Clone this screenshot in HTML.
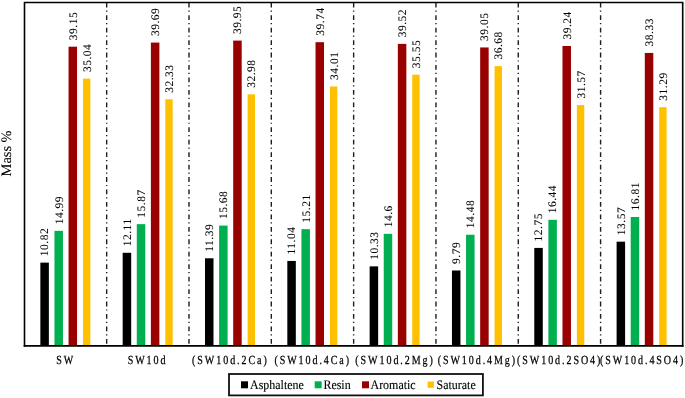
<!DOCTYPE html>
<html><head><meta charset="utf-8"><style>
html,body{margin:0;padding:0;background:#fff;}
body{width:685px;height:398px;overflow:hidden;position:relative;}
svg{position:absolute;left:0;top:0;will-change:transform;}
text{font-family:"Liberation Serif",serif;fill:#000;text-rendering:geometricPrecision;stroke-linejoin:round;}
.dl{font-size:11.5px;stroke:#000;stroke-width:0.08px;letter-spacing:0.5px;}
.xl{font-size:12.4px;stroke:#000;stroke-width:0.25px;letter-spacing:2.37px;}
.lg{font-size:13px;stroke:#000;stroke-width:0.12px;}
</style></head><body>
<svg width="685" height="398" viewBox="0 0 685 398">
<rect x="0" y="0" width="685" height="398" fill="#fff"/>
<line x1="106.67" y1="2.5" x2="106.67" y2="345.5" stroke="#1e1e1e" stroke-width="1.4" stroke-dasharray="4.8 3.0 1.2 3.45" stroke-dashoffset="-0.3"/>
<line x1="188.99" y1="2.5" x2="188.99" y2="345.5" stroke="#1e1e1e" stroke-width="1.4" stroke-dasharray="4.8 3.0 1.2 3.45" stroke-dashoffset="-0.3"/>
<line x1="271.31" y1="2.5" x2="271.31" y2="345.5" stroke="#1e1e1e" stroke-width="1.4" stroke-dasharray="4.8 3.0 1.2 3.45" stroke-dashoffset="-0.3"/>
<line x1="353.63" y1="2.5" x2="353.63" y2="345.5" stroke="#1e1e1e" stroke-width="1.4" stroke-dasharray="4.8 3.0 1.2 3.45" stroke-dashoffset="-0.3"/>
<line x1="435.95" y1="2.5" x2="435.95" y2="345.5" stroke="#1e1e1e" stroke-width="1.4" stroke-dasharray="4.8 3.0 1.2 3.45" stroke-dashoffset="-0.3"/>
<line x1="518.27" y1="2.5" x2="518.27" y2="345.5" stroke="#1e1e1e" stroke-width="1.4" stroke-dasharray="4.8 3.0 1.2 3.45" stroke-dashoffset="-0.3"/>
<line x1="600.59" y1="2.5" x2="600.59" y2="345.5" stroke="#1e1e1e" stroke-width="1.4" stroke-dasharray="4.8 3.0 1.2 3.45" stroke-dashoffset="-0.3"/>
<rect x="40.36" y="262.63" width="8.5" height="82.87" fill="#000000"/>
<text class="dl" transform="translate(48.46,256.13) rotate(-90)">10.82</text>
<rect x="54.46" y="230.84" width="8.5" height="114.66" fill="#00B050"/>
<text class="dl" transform="translate(62.56,224.34) rotate(-90)">14.99</text>
<rect x="68.56" y="46.69" width="8.5" height="298.81" fill="#990000"/>
<text class="dl" transform="translate(76.66,40.19) rotate(-90)">39.15</text>
<rect x="82.96" y="78.62" width="7.4" height="266.88" fill="#FFC000"/>
<text class="dl" transform="translate(90.76,72.12) rotate(-90)">35.04</text>
<text class="xl" text-anchor="middle" transform="translate(65.76,363.7) scale(0.81,1)">SW</text>
<rect x="122.68" y="252.79" width="8.5" height="92.71" fill="#000000"/>
<text class="dl" transform="translate(130.78,246.29) rotate(-90)">12.11</text>
<rect x="136.78" y="224.14" width="8.5" height="121.36" fill="#00B050"/>
<text class="dl" transform="translate(144.88,217.64) rotate(-90)">15.87</text>
<rect x="150.88" y="42.57" width="8.5" height="302.93" fill="#990000"/>
<text class="dl" transform="translate(158.98,36.07) rotate(-90)">39.69</text>
<rect x="165.28" y="99.27" width="7.4" height="246.23" fill="#FFC000"/>
<text class="dl" transform="translate(173.08,92.77) rotate(-90)">32.33</text>
<text class="xl" text-anchor="middle" transform="translate(147.58,363.7) scale(0.81,1)">SW10d</text>
<rect x="205.00" y="258.28" width="8.5" height="87.22" fill="#000000"/>
<text class="dl" transform="translate(213.10,251.78) rotate(-90)">11.39</text>
<rect x="219.10" y="225.58" width="8.5" height="119.92" fill="#00B050"/>
<text class="dl" transform="translate(227.20,219.08) rotate(-90)">15.68</text>
<rect x="233.20" y="40.59" width="8.5" height="304.91" fill="#990000"/>
<text class="dl" transform="translate(241.30,34.09) rotate(-90)">39.95</text>
<rect x="247.60" y="94.32" width="7.4" height="251.18" fill="#FFC000"/>
<text class="dl" transform="translate(255.40,87.82) rotate(-90)">32.98</text>
<text class="xl" text-anchor="middle" transform="translate(230.40,363.7) scale(0.81,1)">(SW10d.2Ca)</text>
<rect x="287.32" y="260.95" width="8.5" height="84.55" fill="#000000"/>
<text class="dl" transform="translate(295.42,254.45) rotate(-90)">11.04</text>
<rect x="301.42" y="229.17" width="8.5" height="116.33" fill="#00B050"/>
<text class="dl" transform="translate(309.52,222.67) rotate(-90)">15.21</text>
<rect x="315.52" y="42.19" width="8.5" height="303.31" fill="#990000"/>
<text class="dl" transform="translate(323.62,35.69) rotate(-90)">39.74</text>
<rect x="329.92" y="86.47" width="7.4" height="259.03" fill="#FFC000"/>
<text class="dl" transform="translate(337.72,79.97) rotate(-90)">34.01</text>
<text class="xl" text-anchor="middle" transform="translate(312.72,363.7) scale(0.81,1)">(SW10d.4Ca)</text>
<rect x="369.64" y="266.36" width="8.5" height="79.14" fill="#000000"/>
<text class="dl" transform="translate(377.74,259.86) rotate(-90)">10.33</text>
<rect x="383.74" y="233.82" width="8.5" height="111.68" fill="#00B050"/>
<text class="dl" transform="translate(391.84,227.32) rotate(-90)">14.6</text>
<rect x="397.84" y="43.87" width="8.5" height="301.63" fill="#990000"/>
<text class="dl" transform="translate(405.94,37.37) rotate(-90)">39.52</text>
<rect x="412.24" y="74.73" width="7.4" height="270.77" fill="#FFC000"/>
<text class="dl" transform="translate(420.04,68.23) rotate(-90)">35.55</text>
<text class="xl" text-anchor="middle" transform="translate(395.04,363.7) scale(0.81,1)">(SW10d.2Mg)</text>
<rect x="451.96" y="270.48" width="8.5" height="75.02" fill="#000000"/>
<text class="dl" transform="translate(460.06,263.98) rotate(-90)">9.79</text>
<rect x="466.06" y="234.73" width="8.5" height="110.77" fill="#00B050"/>
<text class="dl" transform="translate(474.16,228.23) rotate(-90)">14.48</text>
<rect x="480.16" y="47.45" width="8.5" height="298.05" fill="#990000"/>
<text class="dl" transform="translate(488.26,40.95) rotate(-90)">39.05</text>
<rect x="494.56" y="66.12" width="7.4" height="279.38" fill="#FFC000"/>
<text class="dl" transform="translate(502.36,59.62) rotate(-90)">36.68</text>
<text class="xl" text-anchor="middle" transform="translate(477.36,363.7) scale(0.81,1)">(SW10d.4Mg)</text>
<rect x="534.28" y="247.92" width="8.5" height="97.58" fill="#000000"/>
<text class="dl" transform="translate(542.38,241.42) rotate(-90)">12.75</text>
<rect x="548.38" y="219.79" width="8.5" height="125.71" fill="#00B050"/>
<text class="dl" transform="translate(556.48,213.29) rotate(-90)">16.44</text>
<rect x="562.48" y="46.00" width="8.5" height="299.50" fill="#990000"/>
<text class="dl" transform="translate(570.58,39.50) rotate(-90)">39.24</text>
<rect x="576.88" y="105.07" width="7.4" height="240.43" fill="#FFC000"/>
<text class="dl" transform="translate(584.68,98.57) rotate(-90)">31.57</text>
<text class="xl" text-anchor="middle" transform="translate(559.68,363.7) scale(0.81,1)">(SW10d.2SO4)</text>
<rect x="616.60" y="241.67" width="8.5" height="103.83" fill="#000000"/>
<text class="dl" transform="translate(624.70,235.17) rotate(-90)">13.57</text>
<rect x="630.70" y="216.97" width="8.5" height="128.53" fill="#00B050"/>
<text class="dl" transform="translate(638.80,210.47) rotate(-90)">16.81</text>
<rect x="644.80" y="52.94" width="8.5" height="292.56" fill="#990000"/>
<text class="dl" transform="translate(652.90,46.44) rotate(-90)">38.33</text>
<rect x="659.20" y="107.20" width="7.4" height="238.30" fill="#FFC000"/>
<text class="dl" transform="translate(667.00,100.70) rotate(-90)">31.29</text>
<text class="xl" text-anchor="middle" transform="translate(642.60,363.7) scale(0.81,1)">(SW10d.4SO4)</text>
<path d="M24.5,2.5H682.7M24.5,1.7V346.7M682.7,1.7V346.7" fill="none" stroke="#000" stroke-width="1.6"/>
<path d="M23.7,345.8H683.5" fill="none" stroke="#000" stroke-width="1.8"/>
<text font-size="14.4" stroke="#000" stroke-width="0.1" transform="translate(10.6,176.4) rotate(-90)">Mass %</text>
<rect x="229.0" y="374" width="253.9" height="21.4" fill="#fff" stroke="#111" stroke-width="1.8"/>
<rect x="241" y="381.3" width="7" height="7" fill="#000"/>
<text class="lg" transform="translate(250,388.6) scale(0.92,1)">Asphaltene</text>
<rect x="314.7" y="381.3" width="7" height="7" fill="#00B050"/>
<text class="lg" transform="translate(323.4,388.6) scale(0.92,1)">Resin</text>
<rect x="362" y="381.3" width="7" height="7" fill="#990000"/>
<text class="lg" transform="translate(370.5,388.6) scale(0.92,1)">Aromatic</text>
<rect x="427.7" y="381.5" width="6.2" height="6.3" fill="#FFC000"/>
<text class="lg" transform="translate(436.5,388.6) scale(0.92,1)">Saturate</text>
</svg>
</body></html>
